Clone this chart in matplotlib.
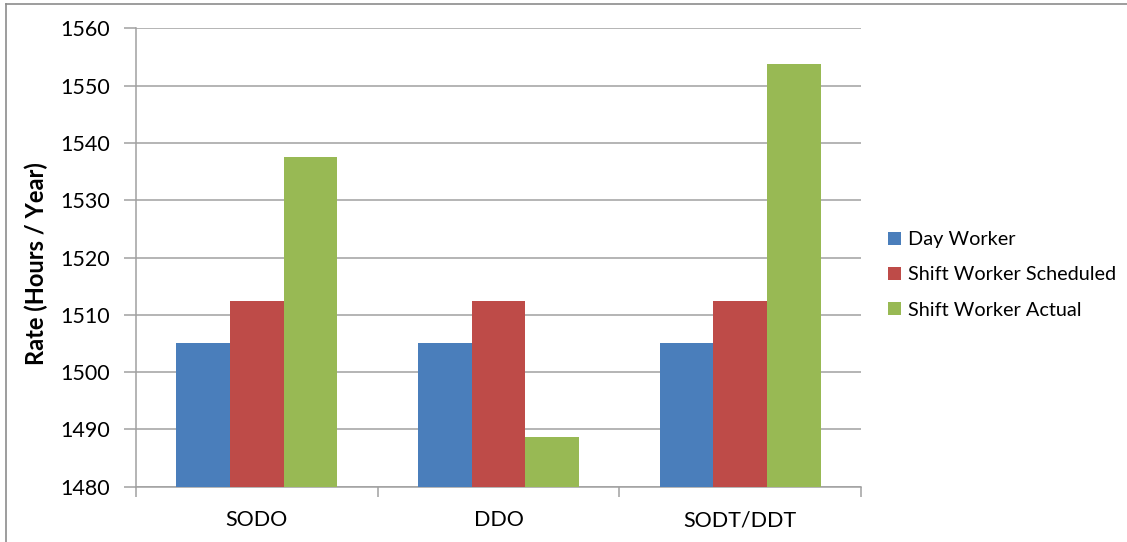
import matplotlib.pyplot as plt
from matplotlib.lines import Line2D
import numpy as np

plt.rcParams['font.family'] = ['Lato', 'DejaVu Sans']

categories = ['SODO', 'DDO', 'SODT/DDT']
series_names = ['Day Worker', 'Shift Worker Scheduled', 'Shift Worker Actual']
day_worker = [1505, 1505, 1505]
shift_scheduled = [1512.5, 1512.5, 1512.5]
shift_actual = [1537.5, 1488.6, 1553.8]
colors = ['#4A7EBB', '#BE4B48', '#98B954']

fig = plt.figure(figsize=(11.27, 5.42), dpi=100)
ax = fig.add_axes([0.1207, 0.1019, 0.6433, 0.8459])

x = np.arange(len(categories))
width = 1 / 4.5
for i, (vals, name) in enumerate(zip([day_worker, shift_scheduled, shift_actual], series_names)):
    ax.bar(x + (i - 1) * width, np.array(vals) - 1480, width, bottom=1480,
           color=colors[i], label=name, zorder=3)

ax.set_xlim(-0.5, 2.5)
ax.set_ylim(1480, 1560)
ax.set_yticks(np.arange(1480, 1561, 10))
ax.yaxis.grid(True, color='#A0A0A0', linewidth=1.1, zorder=0)

ax.set_xticks(x)
ax.set_xticklabels(categories, fontsize=15.5)
ax.set_xticks([-0.5, 0.5, 1.5, 2.5], minor=True)
ax.tick_params(axis='x', which='major', length=0, pad=17)
ax.tick_params(axis='x', which='minor', length=7, color='#A0A0A0', width=1.1)
ax.tick_params(axis='y', length=9, color='#A0A0A0', width=1.1, labelsize=15.5, pad=10)

for side in ['top', 'right']:
    ax.spines[side].set_visible(False)
for side in ['left', 'bottom']:
    ax.spines[side].set_color('#A0A0A0')
    ax.spines[side].set_linewidth(1.1)

ax.set_ylabel('Rate (Hours / Year)', fontsize=17, fontweight='bold')
ax.yaxis.set_label_coords(-0.121, 0.486)

ax.legend(loc='center left', bbox_to_anchor=(1.013, 0.462), frameon=False,
          fontsize=14.3, handlelength=0.62, handleheight=0.62, handletextpad=0.35,
          labelspacing=0.91)

# outer frame lines along top and left edge
fig.add_artist(Line2D([6 / 1127, 1], [1 - 4 / 542, 1 - 4 / 542], color='#8C8C8C', linewidth=1.2))
fig.add_artist(Line2D([6 / 1127, 6 / 1127], [0, 1 - 4 / 542], color='#8C8C8C', linewidth=1.2))

fig.savefig('out.png', dpi=100)
